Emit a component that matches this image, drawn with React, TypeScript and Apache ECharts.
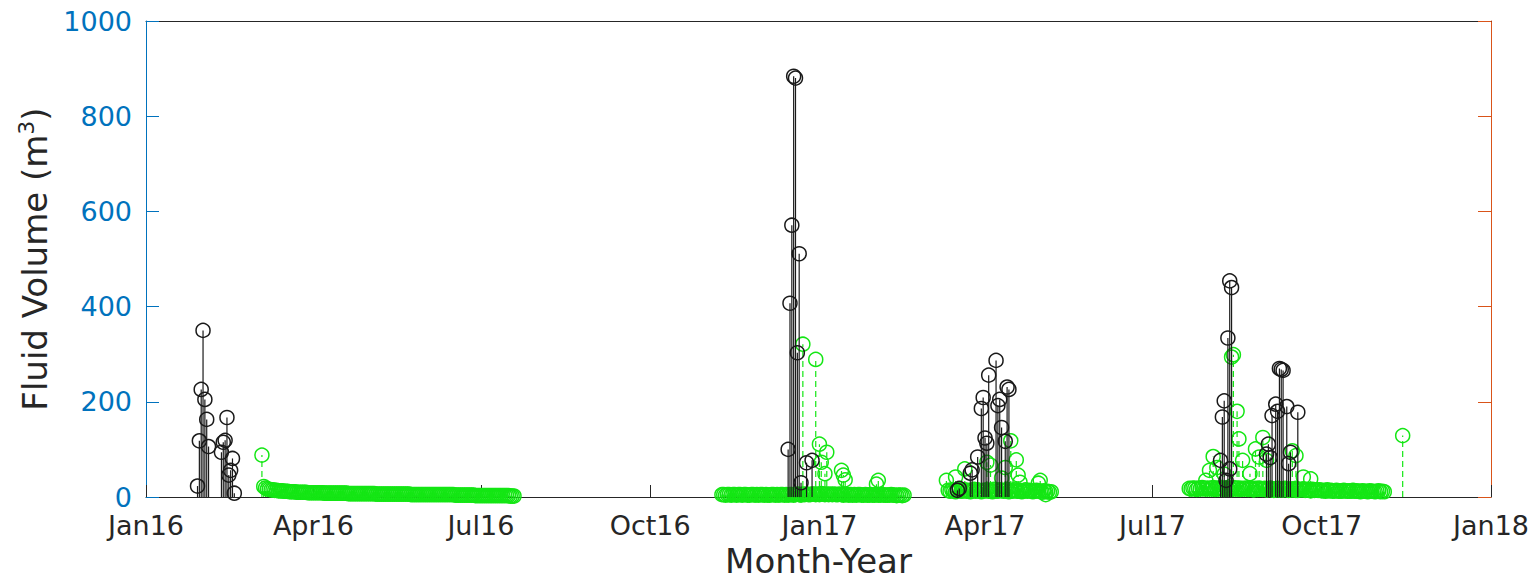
import React, { useEffect, useRef } from "react";
import * as echarts from "echarts";

// ---- axis ticks ----
const tickDays = [0, 91, 182, 274, 366, 456, 547, 639, 731];
const tickLabels = ["Jan16", "Apr16", "Jul16", "Oct16", "Jan17", "Apr17", "Jul17", "Oct17", "Jan18"];
const yTicks = [0, 200, 400, 600, 800, 1000];

// ---- black stems (solid) : [date, volume] ----
const blackPoints: [string, number][] = [
  ["2016-01-29", 23], ["2016-01-30", 118], ["2016-01-31", 226], ["2016-02-01", 350],
  ["2016-02-02", 205], ["2016-02-03", 163], ["2016-02-04", 106], ["2016-02-11", 94],
  ["2016-02-12", 115], ["2016-02-13", 119], ["2016-02-14", 167], ["2016-02-15", 46],
  ["2016-02-16", 56], ["2016-02-17", 81], ["2016-02-18", 8],
  ["2016-12-15", 100], ["2016-12-16", 407], ["2016-12-17", 571], ["2016-12-18", 884],
  ["2016-12-19", 880], ["2016-12-20", 303], ["2016-12-21", 511], ["2016-12-22", 30],
  ["2016-12-25", 72], ["2016-12-28", 77],
  ["2017-03-17", 14], ["2017-03-18", 18], ["2017-03-24", 50], ["2017-03-25", 57],
  ["2017-03-28", 84], ["2017-03-30", 186], ["2017-03-31", 209], ["2017-04-01", 124],
  ["2017-04-02", 113], ["2017-04-03", 256], ["2017-04-07", 287], ["2017-04-08", 192],
  ["2017-04-09", 205], ["2017-04-10", 146], ["2017-04-12", 117], ["2017-04-13", 231],
  ["2017-04-14", 226],
  ["2017-08-07", 77], ["2017-08-08", 168], ["2017-08-09", 202], ["2017-08-10", 35],
  ["2017-08-11", 334], ["2017-08-12", 454], ["2017-08-12", 59], ["2017-08-13", 440],
  ["2017-09-01", 90], ["2017-09-02", 111], ["2017-09-03", 83], ["2017-09-04", 171],
  ["2017-09-06", 195], ["2017-09-07", 180], ["2017-09-08", 270], ["2017-09-09", 268],
  ["2017-09-10", 266], ["2017-09-12", 190], ["2017-09-13", 70], ["2017-09-14", 94],
  ["2017-09-18", 178],
];

// ---- green stems (dashed), isolated readings : [date, volume] ----
const greenPoints: [string, number][] = [
  ["2016-03-04", 88],
  ["2016-12-23", 321], ["2016-12-30", 289], ["2017-01-01", 111], ["2017-01-02", 73],
  ["2017-01-04", 49], ["2017-01-05", 94], ["2017-01-13", 56], ["2017-01-14", 46],
  ["2017-01-15", 36], ["2017-02-01", 27], ["2017-02-02", 35],
  ["2017-03-11", 35], ["2017-03-16", 42], ["2017-03-21", 59], ["2017-04-02", 73],
  ["2017-04-04", 67], ["2017-04-10", 40], ["2017-04-12", 62], ["2017-04-15", 118],
  ["2017-04-18", 78], ["2017-04-19", 46], ["2017-04-20", 31], ["2017-04-30", 29],
  ["2017-05-01", 35], ["2017-05-04", 5],
  ["2017-07-30", 35], ["2017-08-01", 56], ["2017-08-03", 85], ["2017-08-05", 62],
  ["2017-08-09", 48], ["2017-08-13", 294], ["2017-08-14", 299], ["2017-08-16", 180],
  ["2017-08-17", 122], ["2017-08-19", 77], ["2017-08-23", 49], ["2017-08-26", 101],
  ["2017-08-28", 84], ["2017-08-30", 125], ["2017-09-01", 77], ["2017-09-15", 97],
  ["2017-09-17", 87], ["2017-09-17", 14], ["2017-09-21", 42], ["2017-09-25", 38],
  ["2017-11-14", 129],
];

// ---- green daily low-volume runs, one reading per day from the start date ----
const greenRun1Start = "2016-03-05";
const greenRun1 = [
  22, 19, 17, 16, 15, 15, 14, 14, 13, 13,
  13, 12, 12, 12, 11, 11, 11, 11, 10, 10,
  10, 10, 10, 10, 9, 9, 9, 9, 9, 9,
  9, 9, 9, 8, 8, 8, 8, 8, 8, 8,
  8, 8, 8, 8, 8, 8, 7, 7, 7, 7,
  7, 7, 7, 7, 7, 7, 7, 7, 7, 7,
  7, 6, 6, 6, 6, 6, 6, 6, 6, 6,
  6, 6, 6, 6, 6, 6, 6, 6, 6, 6,
  5, 5, 5, 5, 5, 5, 5, 5, 5, 5,
  5, 5, 5, 5, 5, 5, 5, 5, 5, 5,
  5, 5, 5, 5, 4, 4, 4, 4, 4, 4,
  4, 4, 4, 4, 4, 3, 3, 3, 3, 3,
  3, 3, 3, 3, 3, 3, 3, 3, 3, 3,
  3, 3, 3, 3, 2, 2, 2,
];
const greenRun2Start = "2016-11-09";
const greenRun2 = [
  5, 5, 4, 5, 5, 4, 5, 5, 4, 5,
  5, 4, 5, 5, 4, 4, 5, 5, 4, 5,
  4, 5, 5, 4, 5, 4, 4, 5, 5, 4,
  5, 4, 5, 5, 4, 5, 4, 5, 5, 4,
  5, 6, 5, 4, 6, 5, 6, 5, 5, 6,
  6, 5, 6, 5, 7, 6, 5, 6, 5, 6,
  5, 6, 5, 5, 6, 5, 4, 5, 5, 4,
  5, 4, 5, 4, 5, 5, 4, 4, 5, 4,
  4, 5, 4, 4, 5, 4, 4, 5, 4, 4,
  4, 4, 5, 4, 4, 3, 4, 4, 3, 4,
];
const greenRun3Start = "2017-03-12";
const greenRun3 = [
  14, 12, 15, 13, 11, 14, 16, 12, 13, 15,
  12, 14, 11, 13, 16, 12, 15, 13, 11, 14,
  13, 15, 12, 14, 11, 16, 13, 12, 15, 14,
  12, 13, 16, 11, 14, 12, 15, 13, 12, 14,
  11, 13, 15, 12, 14, 13, 11, 12, 14, 13,
  12, 10, 13, 11, 12, 10, 11,
];
const greenRun4Start = "2017-07-21";
const greenRun4 = [
  18, 17, 19, 18, 16, 19, 17, 20, 18, 17,
  19, 17, 18, 20, 16, 18, 19, 17, 18, 16,
  19, 17, 18, 16, 20, 17, 18, 19, 16, 18,
  17, 19, 16, 18, 17, 15, 18, 16, 19, 17,
  16, 18, 15, 17, 19, 16, 14, 17, 18, 15,
  17, 15, 18, 16, 14, 17, 15, 16, 18, 14,
  16, 15, 17, 14, 16, 15, 13, 16, 14, 15,
  14, 15, 13, 14, 12, 15, 13, 14, 12, 13,
  14, 12, 13, 12, 14, 13, 12, 13, 12, 14,
  12, 13, 12, 11, 13, 12, 12, 11, 13, 12,
  12, 11, 12, 13, 11, 12, 11,
];

const ORIGIN = Date.parse("2016-01-01");
const DAY = 86400000;
const toDay = (s: string) => (Date.parse(s) - ORIGIN) / DAY;

function runToPoints(start: string, vals: number[]): number[][] {
  const d0 = toDay(start);
  return vals.map((v, i) => [d0 + i, v]);
}

const BLACK = "#1a1a1a";
const GREEN = "#14e614";
const BLUE = "#0072BD";
const RED = "#D95319";
const AXIS_DARK = "#262626";
const FONT = "DejaVu Sans";

function stemRenderer(color: string, dashed: boolean) {
  return (params: any, api: any) => {
    const x = api.value(0);
    const y = api.value(1);
    const top = api.coord([x, y]);
    const base = api.coord([x, 0]);
    return {
      type: "group",
      children: [
        {
          type: "line",
          shape: { x1: top[0], y1: base[1], x2: top[0], y2: top[1] },
          style: { stroke: color, lineWidth: 1.2, lineDash: dashed ? [6, 4] : null },
        },
        {
          type: "circle",
          shape: { cx: top[0], cy: top[1], r: 7 },
          style: { fill: "none", stroke: color, lineWidth: 1.5 },
        },
      ],
    };
  };
}

export default function App() {
  const ref = useRef<HTMLDivElement>(null);
  useEffect(() => {
    if (!ref.current) return;
    const chart = echarts.init(ref.current, null, { renderer: "svg" });
    const greenAll = [
      ...runToPoints(greenRun1Start, greenRun1),
      ...runToPoints(greenRun2Start, greenRun2),
      ...runToPoints(greenRun3Start, greenRun3),
      ...runToPoints(greenRun4Start, greenRun4),
      ...greenPoints.map(([d, v]) => [toDay(d), v]),
    ];
    const blackAll = blackPoints.map(([d, v]) => [toDay(d), v]);
    chart.setOption({
      animation: false,
      backgroundColor: "#ffffff",
      grid: { left: 146, right: 45, top: 21, bottom: 83, containLabel: false },
      xAxis: [
        {
          type: "value",
          min: 0,
          max: 731,
          name: "Month-Year",
          nameLocation: "middle",
          nameGap: 47,
          nameTextStyle: { fontFamily: FONT, fontSize: 34, color: AXIS_DARK },
          axisLine: { show: true, onZero: false, lineStyle: { color: AXIS_DARK, width: 1 } },
          axisTick: { show: true, inside: true, length: 12, customValues: tickDays, lineStyle: { color: AXIS_DARK } },
          axisLabel: {
            show: true,
            customValues: tickDays,
            margin: 15,
            fontFamily: FONT,
            fontSize: 27,
            color: AXIS_DARK,
            formatter: (v: number) => tickLabels[tickDays.indexOf(Math.round(v))] ?? "",
          },
          splitLine: { show: false },
        },
        {
          type: "value",
          position: "top",
          min: 0,
          max: 731,
          axisLine: { show: true, onZero: false, lineStyle: { color: AXIS_DARK, width: 1 } },
          axisTick: { show: false },
          axisLabel: { show: false },
          splitLine: { show: false },
        },
      ],
      yAxis: [
        {
          type: "value",
          position: "left",
          min: 0,
          max: 1000,
          interval: 200,
          name: "Fluid Volume (m{sup|3})",
          nameLocation: "middle",
          nameGap: 88,
          nameRotate: 90,
          nameTextStyle: {
            fontFamily: FONT,
            fontSize: 34,
            color: AXIS_DARK,
            rich: { sup: { fontFamily: FONT, fontSize: 22, color: AXIS_DARK, verticalAlign: "top", padding: [0, 0, 18, 0] } },
          },
          axisLine: { show: true, onZero: false, lineStyle: { color: BLUE, width: 1 } },
          axisTick: { show: true, inside: true, length: 13, lineStyle: { color: BLUE } },
          axisLabel: {
            show: true,
            margin: 14,
            fontFamily: FONT,
            fontSize: 27,
            color: BLUE,
            formatter: (v: number) => (yTicks.includes(v) ? String(v) : ""),
          },
          splitLine: { show: false },
        },
        {
          type: "value",
          position: "right",
          min: 0,
          max: 1000,
          interval: 200,
          axisLine: { show: true, onZero: false, lineStyle: { color: RED, width: 1 } },
          axisTick: { show: true, inside: true, length: 13, lineStyle: { color: RED } },
          axisLabel: { show: false },
          splitLine: { show: false },
        },
      ],
      series: [
        {
          type: "custom",
          name: "green",
          xAxisIndex: 0,
          yAxisIndex: 0,
          clip: false,
          renderItem: stemRenderer(GREEN, true),
          encode: { x: 0, y: 1 },
          data: greenAll,
        },
        {
          type: "custom",
          name: "black",
          xAxisIndex: 0,
          yAxisIndex: 0,
          clip: false,
          renderItem: stemRenderer(BLACK, false),
          encode: { x: 0, y: 1 },
          data: blackAll,
        },
      ],
    });
    return () => chart.dispose();
  }, []);
  return (
    <div
      ref={ref}
      style={{ position: "absolute", left: 0, top: 0, width: 1536, height: 583, background: "#fff" }}
    />
  );
}
